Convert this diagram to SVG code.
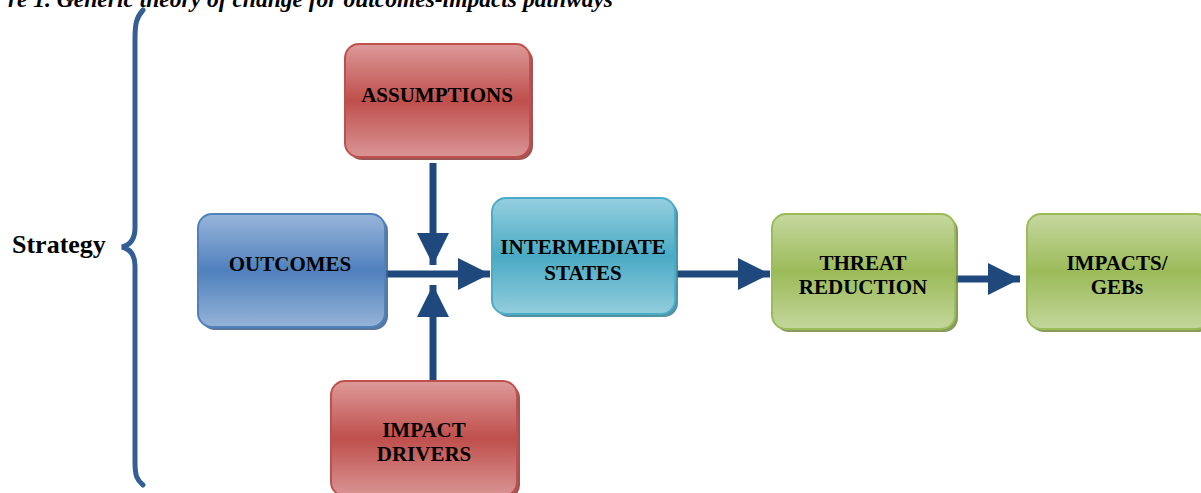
<svg xmlns="http://www.w3.org/2000/svg" width="1201" height="493" viewBox="0 0 1201 493">
<defs>
<linearGradient id="gRed" x1="0" y1="0" x2="0" y2="1">
<stop offset="0" stop-color="#dc9a99"/><stop offset="0.5" stop-color="#bf4f4c"/><stop offset="1" stop-color="#d99594"/>
</linearGradient>
<linearGradient id="gBlue" x1="0" y1="0" x2="0" y2="1">
<stop offset="0" stop-color="#98b5da"/><stop offset="0.5" stop-color="#4f81bd"/><stop offset="1" stop-color="#95b3d7"/>
</linearGradient>
<linearGradient id="gTeal" x1="0" y1="0" x2="0" y2="1">
<stop offset="0" stop-color="#95cfdf"/><stop offset="0.5" stop-color="#4aaac4"/><stop offset="1" stop-color="#93cddd"/>
</linearGradient>
<linearGradient id="gGreen" x1="0" y1="0" x2="0" y2="1">
<stop offset="0" stop-color="#c6d8a0"/><stop offset="0.5" stop-color="#9bbb59"/><stop offset="1" stop-color="#c3d69b"/>
</linearGradient>
<marker id="ah" viewBox="0 0 10 10" refX="10" refY="5" markerWidth="4.6" markerHeight="4.6" markerUnits="strokeWidth" orient="auto">
<path d="M0,0 L10,5 L0,10 Z" fill="#1f497d"/>
</marker>
</defs>
<style>
.lbl{font-family:"Liberation Serif","Times New Roman",serif;font-weight:bold;font-size:21px;fill:#000;text-anchor:middle}
.sh{opacity:0.85}
.conn{stroke:#1f497d;stroke-width:7;fill:none}
</style>
<text x="613" y="7" font-family="Liberation Serif, serif" font-weight="bold" font-style="italic" font-size="23.5" text-anchor="end" fill="#000">re 1. Generic theory of change for outcomes-impacts pathways</text>
<g id="brace">
<path d="M143,10 C136,18 135,24 135,40 L135,228 C135,240 130,245 122,247 C130,249 135,254 135,266 L135,462 C135,476 137,480 143,485" fill="none" stroke="#335f94" stroke-width="5" stroke-linecap="round"/>
<text x="12" y="253" font-family="Liberation Serif, serif" font-weight="bold" font-size="26" fill="#000">Strategy</text>
</g>
<g id="connectors">
<line class="conn" x1="433" y1="163" x2="433" y2="265" marker-end="url(#ah)"/>
<line class="conn" x1="433" y1="380" x2="433" y2="285" marker-end="url(#ah)"/>
<line class="conn" x1="384" y1="274" x2="490" y2="274" marker-end="url(#ah)"/>
<line class="conn" x1="677" y1="274" x2="770" y2="274" marker-end="url(#ah)"/>
<line class="conn" x1="956" y1="279" x2="1020" y2="279" marker-end="url(#ah)"/>
</g>
<g id="assumptions">
<rect x="348" y="47" width="185" height="113" rx="14" fill="#8c3836" class="sh"/>
<rect x="345" y="44" width="185" height="113" rx="14" fill="url(#gRed)" stroke="#c0504d" stroke-width="2"/>
<text class="lbl" x="437" y="102">ASSUMPTIONS</text>
</g>
<g id="outcomes">
<rect x="201" y="217" width="187" height="113" rx="14" fill="#3a5f8c" class="sh"/>
<rect x="198" y="214" width="187" height="113" rx="14" fill="url(#gBlue)" stroke="#4f81bd" stroke-width="2"/>
<text class="lbl" x="290" y="271">OUTCOMES</text>
</g>
<g id="intermediate">
<rect x="495" y="201" width="183" height="116" rx="14" fill="#327f93" class="sh"/>
<rect x="492" y="198" width="183" height="116" rx="14" fill="url(#gTeal)" stroke="#4bacc6" stroke-width="2"/>
<text class="lbl" x="583" y="254">INTERMEDIATE</text>
<text class="lbl" x="583" y="280">STATES</text>
</g>
<g id="threat">
<rect x="775" y="217" width="183" height="115" rx="14" fill="#718a3f" class="sh"/>
<rect x="772" y="214" width="183" height="115" rx="14" fill="url(#gGreen)" stroke="#9bbb59" stroke-width="2"/>
<text class="lbl" x="863" y="270">THREAT</text>
<text class="lbl" x="863" y="294">REDUCTION</text>
</g>
<g id="impacts">
<rect x="1030" y="217" width="183" height="115" rx="14" fill="#718a3f" class="sh"/>
<rect x="1027" y="214" width="183" height="115" rx="14" fill="url(#gGreen)" stroke="#9bbb59" stroke-width="2"/>
<text class="lbl" x="1117" y="270">IMPACTS/</text>
<text class="lbl" x="1117" y="294">GEBs</text>
</g>
<g id="drivers">
<rect x="334" y="384" width="186" height="115" rx="14" fill="#8c3836" class="sh"/>
<rect x="331" y="381" width="186" height="115" rx="14" fill="url(#gRed)" stroke="#c0504d" stroke-width="2"/>
<text class="lbl" x="424" y="437">IMPACT</text>
<text class="lbl" x="424" y="461">DRIVERS</text>
</g>
</svg>
